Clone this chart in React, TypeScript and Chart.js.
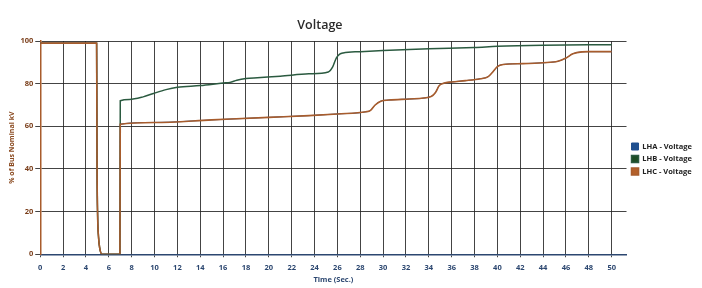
import React, { useEffect, useRef } from "react";
import { Chart, registerables } from "chart.js";

Chart.register(...registerables);

const TITLE = "Voltage";
const X_TITLE = "Time (Sec.)";
const Y_TITLE = "% of Bus Nominal kV";
const SERIES_NAMES = ["LHA - Voltage", "LHB - Voltage", "LHC - Voltage"];

const xTickValues = [0, 2, 4, 6, 8, 10, 12, 14, 16, 18, 20, 22, 24, 26, 28, 30, 32, 34, 36, 38, 40, 42, 44, 46, 48, 50];
const yTickValues = [0, 20, 40, 60, 80, 100];

const lhcTime = [0, 4.93, 4.97, 5.02, 5.1, 5.2, 5.4, 6.97, 7.0, 10, 15, 20, 23.5, 26, 28.5, 28.9, 29.3, 29.8, 30.5, 32.3, 34.2, 34.6, 34.9, 35.3, 36, 37.2, 38.5, 39.2, 39.6, 40.0, 40.5, 42.2, 44, 45.3, 46, 46.6, 47.4, 48, 50];
const lhcVolt = [99, 99, 40, 18, 8, 3, 0, 0, 61, 61.8, 63, 64.2, 65, 65.8, 66.8, 67.5, 70, 71.8, 72.3, 72.8, 74, 76, 79, 80.2, 80.8, 81.4, 82.3, 83.3, 85.5, 88, 89, 89.4, 89.8, 90.5, 92, 94, 94.9, 95, 95];

const lhbTime = [0, 4.93, 4.97, 5.02, 5.1, 5.2, 5.4, 6.97, 7.0, 7.8, 9, 9.9, 11, 12, 14, 16, 16.6, 17.2, 18, 19, 21, 23.5, 25.2, 25.6, 25.9, 26.2, 26.5, 28, 30, 34, 38, 40, 44, 50];
const lhbVolt = [99, 99, 40, 18, 8, 3, 0, 0, 72, 72.6, 73.8, 75.4, 77.2, 78.3, 79.1, 80.3, 80.6, 81.6, 82.4, 82.8, 83.5, 84.6, 85.5, 88, 92, 93.8, 94.4, 95, 95.6, 96.4, 97, 97.5, 98, 98.3];

// LHA lies under the other phases and is not visible in the picture
const lhaTime = lhcTime;
const lhaVolt = lhcVolt;

const toPoints = (t: number[], v: number[]) => t.map((x, i) => ({ x, y: v[i] }));

const titlePlugin = {
  id: "offsetTitle",
  afterDraw(chart: any) {
    const { ctx, chartArea } = chart;
    ctx.save();
    ctx.font = '600 12.5px "Open Sans"';
    ctx.fillStyle = "#2a2a2a";
    ctx.textAlign = "center";
    ctx.textBaseline = "middle";
    const x = chartArea.left + (chartArea.right - chartArea.left) * 0.477;
    ctx.fillText(TITLE, x, chartArea.top - 16);
    ctx.restore();
  },
};

export default function App() {
  const ref = useRef<HTMLCanvasElement>(null);

  useEffect(() => {
    if (!ref.current) return;
    const brown = "#a85c2c";
    const chart = new Chart(ref.current, {
      type: "line",
      data: {
        datasets: [
          {
            label: SERIES_NAMES[0],
            data: toPoints(lhaTime, lhaVolt),
            borderColor: "#1f4f8f",
            backgroundColor: "#1f4f8f",
            borderWidth: 1,
            pointRadius: 0,
            cubicInterpolationMode: "monotone",
            order: 2,
          },
          {
            label: SERIES_NAMES[1],
            data: toPoints(lhbTime, lhbVolt),
            borderColor: "#2b5a40",
            backgroundColor: "#1d4d24",
            borderWidth: 1.5,
            pointRadius: 0,
            cubicInterpolationMode: "monotone",
            order: 1,
          },
          {
            label: SERIES_NAMES[2],
            data: toPoints(lhcTime, lhcVolt),
            borderColor: brown,
            backgroundColor: "#b4602a",
            borderWidth: 1.6,
            pointRadius: 0,
            cubicInterpolationMode: "monotone",
            order: 0,
          },
        ],
      },
      options: {
        animation: false,
        responsive: true,
        maintainAspectRatio: false,
        layout: { padding: { top: 36, left: 8, right: 0, bottom: 6 } },
        plugins: {
          title: { display: false },
          tooltip: { enabled: false },
          legend: {
            position: "right",
            reverse: true,
            labels: {
              boxWidth: 7,
              boxHeight: 7,
              padding: 5,
              color: "#222",
              font: { family: "Open Sans", size: 7.5, weight: "bold" },
            },
          },
        },
        scales: {
          x: {
            type: "linear",
            min: 0,
            max: 51.3,
            afterBuildTicks: (axis: any) => {
              axis.ticks = xTickValues.map((value) => ({ value }));
            },
            ticks: {
              color: "#2c4770",
              padding: 6,
              maxRotation: 0,
              font: { family: "Open Sans", size: 7.5, weight: "bold" },
            },
            grid: { color: "rgba(35,35,35,0.85)", lineWidth: 1, tickLength: 3 },
            border: { color: "#2c4770", width: 1.5 },
            title: {
              display: true,
              text: X_TITLE,
              color: "#2c4770",
              padding: { top: 0, bottom: 0 },
              font: { family: "Open Sans", size: 7.5, weight: "bold", lineHeight: 0.5 },
            },
          },
          y: {
            min: 0,
            max: 100,
            afterBuildTicks: (axis: any) => {
              axis.ticks = yTickValues.map((value) => ({ value }));
            },
            afterFit: (axis: any) => {
              axis.paddingTop = 41;
            },
            ticks: {
              color: "#7a3e1a",
              padding: 2,
              font: { family: "Open Sans", size: 7.5, weight: "bold" },
            },
            grid: { color: "rgba(35,35,35,0.85)", lineWidth: 1, tickLength: 5 },
            border: { color: brown, width: 1.5 },
            title: {
              display: true,
              text: Y_TITLE,
              color: "#8a4a20",
              padding: { top: 0, bottom: 2 },
              font: { family: "Open Sans", size: 7, weight: "bold" },
            },
          },
        },
      },
      plugins: [titlePlugin],
    });
    return () => chart.destroy();
  }, []);

  return (
    <div style={{ position: "fixed", left: 0, top: 0, width: 702, height: 288, background: "#fff" }}>
      <canvas ref={ref} />
    </div>
  );
}
